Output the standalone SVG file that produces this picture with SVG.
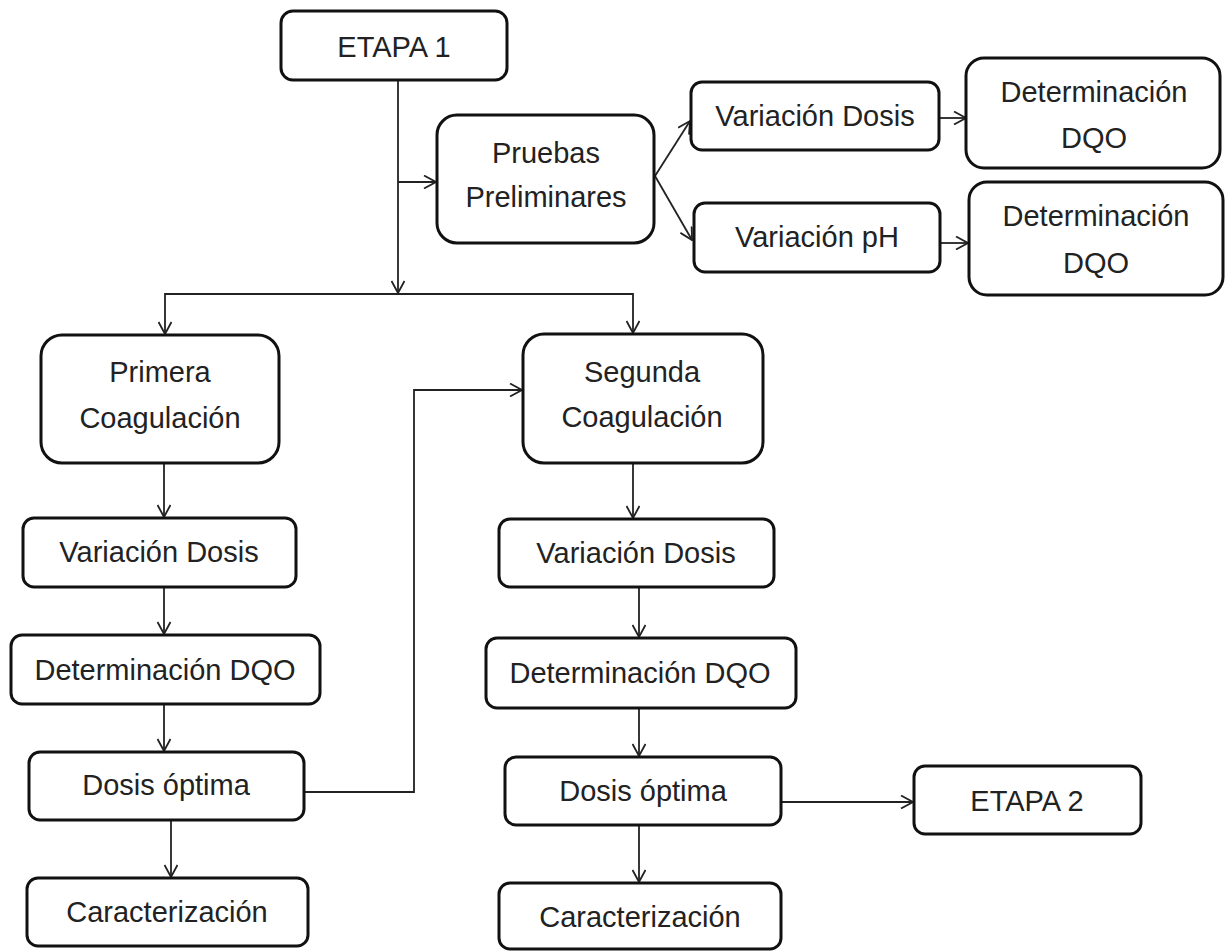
<svg xmlns="http://www.w3.org/2000/svg" width="1230" height="951" viewBox="0 0 1230 951">
<style>
.box{fill:#fff;stroke:#111;stroke-width:3}
.t{font-family:"Liberation Sans",Arial,sans-serif;font-size:29px;fill:#222;text-anchor:middle}
.c{fill:none;stroke:#222;stroke-width:1.8}
</style>
<defs>
<marker id="ah" viewBox="0 0 14 14" markerWidth="14" markerHeight="14" refX="13" refY="7" orient="auto" markerUnits="userSpaceOnUse">
<path d="M1,0.5 L13,7 L1,13.5" fill="none" stroke="#222" stroke-width="1.8"/>
</marker>
</defs>
<rect width="1230" height="951" fill="#fff"/>
<g id="connectors">
<path class="c" d="M398,80 V293" marker-end="url(#ah)"/>
<path class="c" d="M398,182 H436" marker-end="url(#ah)"/>
<path class="c" d="M398,294 H165 V334" marker-end="url(#ah)"/>
<path class="c" d="M398,294 H633 V333" marker-end="url(#ah)"/>
<path class="c" d="M655,176 L690,121" marker-end="url(#ah)"/>
<path class="c" d="M655,176 L692,240" marker-end="url(#ah)"/>
<path class="c" d="M939,118 H966" marker-end="url(#ah)"/>
<path class="c" d="M940,243 H968" marker-end="url(#ah)"/>
<path class="c" d="M164,463 V517" marker-end="url(#ah)"/>
<path class="c" d="M164,587 V634" marker-end="url(#ah)"/>
<path class="c" d="M164,704 V751" marker-end="url(#ah)"/>
<path class="c" d="M171,820 V877" marker-end="url(#ah)"/>
<path class="c" d="M304,792 H414 V390 H522" marker-end="url(#ah)"/>
<path class="c" d="M633,463 V518" marker-end="url(#ah)"/>
<path class="c" d="M639,587 V637" marker-end="url(#ah)"/>
<path class="c" d="M639,708 V756" marker-end="url(#ah)"/>
<path class="c" d="M781,802 H913" marker-end="url(#ah)"/>
<path class="c" d="M639,825 V882" marker-end="url(#ah)"/>
</g>
<g id="etapa1"><rect class="box" x="281" y="11" width="226" height="69" rx="12"/><text class="t" x="394" y="57">ETAPA 1</text></g>
<g id="pruebas"><rect class="box" x="437" y="115" width="217" height="128" rx="20"/><text class="t" x="546" y="163">Pruebas</text><text class="t" x="546" y="207">Preliminares</text></g>
<g id="vdosis-top"><rect class="box" x="691" y="82" width="248" height="68" rx="11"/><text class="t" x="815" y="126">Variación Dosis</text></g>
<g id="dqo-top"><rect class="box" x="966" y="58" width="254" height="110" rx="18"/><text class="t" x="1094" y="102">Determinación</text><text class="t" x="1094" y="148">DQO</text></g>
<g id="vph"><rect class="box" x="694" y="203" width="246" height="69" rx="11"/><text class="t" x="817" y="247">Variación pH</text></g>
<g id="dqo-ph"><rect class="box" x="969" y="182" width="254" height="113" rx="18"/><text class="t" x="1096" y="226">Determinación</text><text class="t" x="1096" y="273">DQO</text></g>
<g id="primera"><rect class="box" x="41" y="335" width="238" height="128" rx="21"/><text class="t" x="160" y="382">Primera</text><text class="t" x="160" y="428">Coagulación</text></g>
<g id="vdosis-l"><rect class="box" x="23" y="518" width="273" height="69" rx="11"/><text class="t" x="159" y="562">Variación Dosis</text></g>
<g id="dqo-l"><rect class="box" x="11" y="635" width="309" height="69" rx="11"/><text class="t" x="165" y="680">Determinación DQO</text></g>
<g id="dosis-l"><rect class="box" x="29" y="752" width="275" height="68" rx="11"/><text class="t" x="166" y="795">Dosis óptima</text></g>
<g id="caract-l"><rect class="box" x="27" y="878" width="281" height="68" rx="11"/><text class="t" x="167" y="922">Caracterización</text></g>
<g id="segunda"><rect class="box" x="523" y="334" width="240" height="129" rx="21"/><text class="t" x="642" y="382">Segunda</text><text class="t" x="642" y="427">Coagulación</text></g>
<g id="vdosis-r"><rect class="box" x="499" y="519" width="275" height="68" rx="11"/><text class="t" x="636" y="563">Variación Dosis</text></g>
<g id="dqo-r"><rect class="box" x="486" y="638" width="310" height="70" rx="11"/><text class="t" x="640" y="683">Determinación DQO</text></g>
<g id="dosis-r"><rect class="box" x="505" y="757" width="276" height="68" rx="11"/><text class="t" x="643" y="801">Dosis óptima</text></g>
<g id="etapa2"><rect class="box" x="914" y="766" width="227" height="68" rx="11"/><text class="t" x="1027" y="811">ETAPA 2</text></g>
<g id="caract-r"><rect class="box" x="499" y="883" width="282" height="66" rx="11"/><text class="t" x="640" y="927">Caracterización</text></g>
</svg>
